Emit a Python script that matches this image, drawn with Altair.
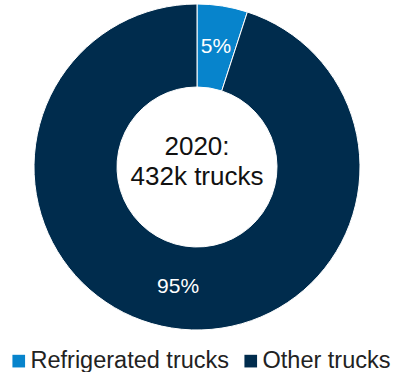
import altair as alt
import pandas as pd

categories = ["Refrigerated trucks", "Other trucks"]
shares = [5, 95]
labels = ["5%", "95%"]
order = [0, 1]
colors = ["#0784CC", "#002C4D"]
center_lines = ["2020:", "432k trucks"]

df = pd.DataFrame({"cat": categories, "share": shares, "label": labels, "ord": order})

CX, CY = 197, 167

color = alt.Color(
    "cat:N",
    scale=alt.Scale(domain=categories, range=colors),
    legend=alt.Legend(
        title=None,
        orient="none",
        legendX=7,
        legendY=349,
        direction="horizontal",
        symbolType="square",
        symbolSize=160,
        symbolStrokeWidth=0,
        symbolOpacity=1,
        labelFont="Liberation Sans",
        labelFontSize=23.5,
        labelColor="#222222",
        labelOffset=0,
        labelLimit=0,
        columnPadding=9,
        padding=0,
    ),
)

base = alt.Chart(df).encode(
    theta=alt.Theta("share:Q", stack=True),
    order=alt.Order("ord:Q"),
)

arcs = base.mark_arc(innerRadius=80, outerRadius=163, stroke="white", strokeWidth=1).encode(
    color=color, x=alt.value(CX), y=alt.value(CY)
)

texts = base.mark_text(radius=121, font="Liberation Sans", fontSize=21, color="white").encode(
    text="label:N", x=alt.value(CX), y=alt.value(CY)
)

center = alt.Chart(pd.DataFrame({"t": ["\n".join(center_lines)]})).mark_text(
    font="Liberation Sans", fontSize=26, color="#111111", lineBreak="\n", lineHeight=30,
    baseline="middle", align="center"
).encode(text="t:N", x=alt.value(CX), y=alt.value(147))

chart = (arcs + texts + center).properties(
    width=396, height=372, padding=0,
    autosize=alt.AutoSizeParams(type="none"),
).configure_view(stroke=None)

chart.save("out.html", embed_options={"renderer": "svg", "actions": False})
